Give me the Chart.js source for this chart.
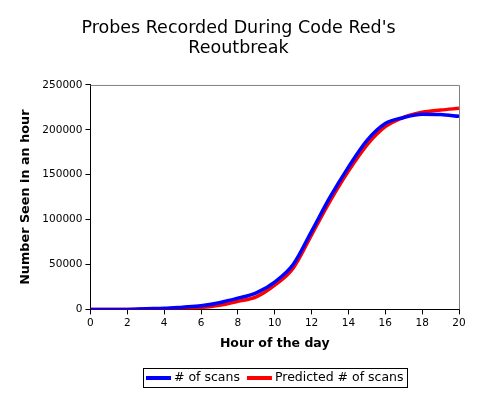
<!DOCTYPE html>
<html>
<head>
<meta charset="utf-8">
<script src="https://cdn.jsdelivr.net/npm/chart.js@4"></script>
<style>
  body { margin: 0; background: #fff; }
  #wrap { width: 482px; height: 395px; }
</style>
</head>
<body>
<div id="wrap"><canvas id="myChart" width="482" height="395"></canvas></div>
<script>
const hours = [0, 1, 2, 3, 4, 5, 6, 7, 8, 9, 10, 11, 12, 13, 14, 15, 16, 17, 18, 19, 20];
const scans = [0, 0, 0, 800, 1200, 2500, 4000, 7500, 12500, 18500, 30500, 50000, 87000, 125000, 158500, 188000, 207000, 213800, 217500, 217000, 215000];
const predicted = [0, 0, 0, 100, 300, 800, 2000, 4500, 9000, 14000, 27000, 46000, 83000, 120500, 154000, 183000, 203500, 214000, 219500, 222000, 224000];
const xTicks = [0, 2, 4, 6, 8, 10, 12, 14, 16, 18, 20];

const font = '"DejaVu Sans", Verdana, sans-serif';

// grey top/right border of the plot, and the boxed legend under it
const frame = {
    id: 'frame',
    beforeDatasetsDraw(chart) {
        const a = chart.chartArea, c = chart.ctx;
        c.save();
        c.strokeStyle = '#808080';
        c.lineWidth = 1;
        c.beginPath();
        c.moveTo(a.left, a.top + 0.5);
        c.lineTo(a.right + 0.5, a.top + 0.5);
        c.lineTo(a.right + 0.5, a.bottom);
        c.stroke();
        c.restore();
    },
    afterDraw(chart) {
        const c = chart.ctx;
        const a = chart.chartArea;
        c.save();
        c.font = '12.5px ' + font;
        c.textBaseline = 'middle';
        const sample = 25, gapIn = 3, gapOut = 7, padX = 3;
        const items = chart.data.datasets.map(ds => ({ ds, w: c.measureText(ds.label).width }));
        let total = padX * 2;
        items.forEach((it, i) => { total += sample + gapIn + it.w + (i < items.length - 1 ? gapOut : 0); });
        const cx = (a.left + a.right) / 2;
        const x0 = Math.round(cx - total / 2);
        const y0 = 368, h = 19, ym = y0 + h / 2 + 0.5;
        c.strokeStyle = '#000';
        c.lineWidth = 1;
        c.strokeRect(x0 + 0.5, y0 + 0.5, Math.round(total), h);
        let x = x0 + padX;
        items.forEach(it => {
            c.strokeStyle = it.ds.borderColor;
            c.lineWidth = 4;
            c.beginPath();
            c.moveTo(x, ym);
            c.lineTo(x + sample, ym);
            c.stroke();
            x += sample + gapIn;
            c.fillStyle = '#000';
            c.fillText(it.ds.label, x, ym);
            x += it.w + gapOut;
        });
        c.restore();
    }
};

const ctx = document.getElementById('myChart').getContext('2d');
const myChart = new Chart(ctx, {
    type: 'line',
    data: {
        datasets: [{
            label: '# of scans',
            data: hours.map((h, i) => ({ x: h, y: scans[i] })),
            borderColor: '#0000FF',
            borderWidth: 3.5,
            pointRadius: 0,
            cubicInterpolationMode: 'monotone'
        }, {
            label: 'Predicted # of scans',
            data: hours.map((h, i) => ({ x: h, y: predicted[i] })),
            borderColor: '#FF0000',
            borderWidth: 3.5,
            pointRadius: 0,
            cubicInterpolationMode: 'monotone'
        }]
    },
    options: {
        responsive: false,
        animation: false,
        layout: { padding: { left: 18, right: 23, top: 18, bottom: 44 } },
        scales: {
            x: {
                type: 'linear',
                min: 0,
                max: 20,
                afterBuildTicks: axis => { axis.ticks = xTicks.map(v => ({ value: v })); },
                grid: { drawOnChartArea: false, color: '#000', tickLength: 5 },
                border: { color: '#000' },
                ticks: { color: '#000', font: { family: font, size: 10.5 }, padding: 3, maxRotation: 0 },
                title: { display: true, text: 'Hour of the day', color: '#000', font: { family: font, size: 12.5, weight: 'bold' }, padding: { top: 3, bottom: 0 } }
            },
            y: {
                min: 0,
                max: 250000,
                ticks: { stepSize: 50000, color: '#000', font: { family: font, size: 10.5 }, padding: 3, callback: v => String(v) },
                grid: { drawOnChartArea: false, color: '#000', tickLength: 5 },
                border: { color: '#000' },
                title: { display: true, text: 'Number Seen in an hour', color: '#000', font: { family: font, size: 12.8, weight: 'bold' }, padding: { top: 0, bottom: 6 } }
            }
        },
        plugins: {
            title: {
                display: true,
                text: ['Probes Recorded During Code Red\'s', 'Reoutbreak'],
                color: '#000',
                font: { family: font, size: 17.5, weight: 'normal', lineHeight: 1.17 },
                padding: { top: 0, bottom: 26 }
            },
            legend: { display: false },
            tooltip: { enabled: false }
        }
    },
    plugins: [frame]
});
</script>
</body>
</html>
